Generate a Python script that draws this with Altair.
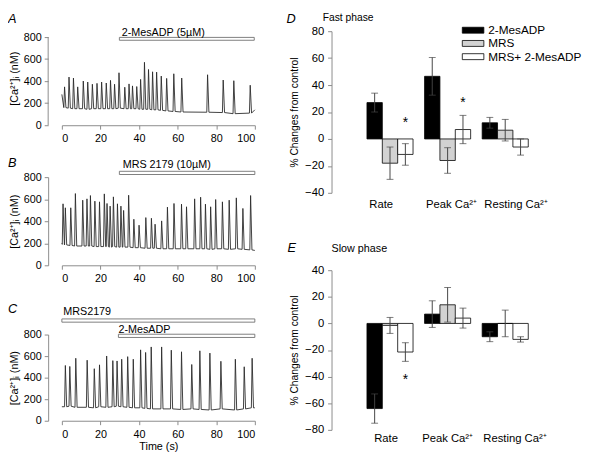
import altair as alt
import pandas as pd

FONT = "Liberation Sans"

# ---------------- Trace A : 2-MesADP ----------------
A_t = [1.4, 3.7, 6.0, 8.2, 11.1, 13.4, 15.8, 18.2, 20.6, 23.0, 25.2, 27.3, 29.6, 32.6, 34.8,
       36.6, 38.8, 40.8, 42.8, 44.9, 47.0, 49.1, 51.5, 54.3, 58.0, 62.1, 75.5, 83.6, 89.1, 97.6]
A_peak = [348, 437, 428, 348, 401, 392, 372, 380, 392, 383, 407, 372, 476, 345, 375,
          357, 351, 416, 571, 506, 485, 482, 446, 425, 467, 428, 458, 410, 404, 363]
A_base = [160, 155, 150, 150, 150, 145, 150, 150, 150, 150, 150, 150, 155, 150, 150,
          150, 150, 145, 145, 145, 140, 140, 135, 130, 125, 120, 118, 115, 105, 110]
A_ends = [(0, 280), (100, 140)]

# ---------------- Trace B : MRS 2179 ----------------
B_t = [0.6, 1.8, 4.6, 7.0, 10.8, 13.0, 14.8, 17.1, 19.5, 22.0, 23.4, 25.0, 26.7, 28.8, 30.6,
       32.0, 34.6, 37.3, 40.0, 43.5, 46.4, 48.3, 51.7, 54.7, 58.1, 62.0, 64.6, 68.8, 71.9, 74.4,
       77.1, 79.7, 83.2, 86.7, 90.4, 93.8, 97.8]
B_peak = [558, 522, 522, 651, 591, 603, 633, 582, 576, 648, 561, 537, 621, 558, 537,
          498, 636, 418, 364, 433, 427, 373, 403, 528, 561, 555, 531, 603, 618, 555,
          531, 597, 576, 591, 612, 516, 633]
B_base = [190, 185, 180, 175, 175, 175, 175, 170, 170, 170, 170, 165, 170, 165, 165,
          165, 165, 160, 160, 155, 155, 155, 150, 150, 150, 150, 150, 150, 150, 150,
          145, 150, 150, 145, 150, 145, 140]
B_ends = [(0, 200), (100, 135)]

# ---------------- Trace C : MRS2179 + 2-MesADP ----------------
C_t = [1.8, 4.1, 7.2, 13.1, 16.8, 19.5, 23.2, 26.4, 28.6, 31.0, 34.1, 37.0, 40.8, 43.4, 46.3,
       51.7, 56.7, 62.0, 67.3, 71.5, 76.7, 82.4, 89.9, 94.5, 98.6]
C_peak = [513, 504, 580, 562, 483, 519, 601, 558, 555, 571, 595, 571, 658, 634, 685,
          685, 655, 640, 522, 649, 628, 552, 571, 501, 580]
C_base = [130, 135, 125, 125, 120, 130, 125, 130, 135, 130, 125, 120, 120, 115, 110,
          110, 110, 105, 110, 105, 100, 110, 100, 110, 120]
C_ends = [(0, 130), (100, 120)]

# drug application bars (start s, end s, bottom nM, top nM) and their labels
A_bar_t1, A_bar_t2, A_bar_v1, A_bar_v2 = [29.8], [99.7], [771], [797]
A_lab_t, A_lab_v, A_lab = [31], [808], ["2-MesADP (5µM)"]
B_bar_t1, B_bar_t2, B_bar_v1, B_bar_v2 = [29.8], [100], [824], [853]
B_lab_t, B_lab_v, B_lab = [31.5], [885], ["MRS 2179 (10µM)"]
C_bar_t1, C_bar_t2, C_bar_v1, C_bar_v2 = [0, 29.3], [100, 100], [915, 773], [945, 803]
C_lab_t, C_lab_v, C_lab = [0.7, 29.3], [985, 817], ["MRS2179", "2-MesADP"]

# panel letters placed in each trace panel's own units (time s, nM)
A_let_t, A_let_v = -27.9, 929.8
B_let_t, B_let_v = -27.9, 888.9
C_let_t, C_let_v = -27.9, 1000

# ---------------- Bar panels D / E ----------------
cats = ["Rate", "Peak Ca²⁺", "Resting Ca²⁺"]
series = ["2-MesADP", "MRS", "MRS+ 2-MesADP"]
colors = ["#000000", "#d2d2d2", "#ffffff"]
D_mean = [27, -18, -11.5, 46.5, -16, 7, 12, 6.5, -6]
D_err = [7, 12, 8, 14, 9.5, 10.5, 4, 8, 6]
D_star_cat, D_star_ser, D_star_v = ["Rate", "Peak Ca²⁺"], ["MRS+ 2-MesADP", "MRS+ 2-MesADP"], [15, 29.5]
E_mean = [-64, -1.5, -21.5, 7, 14, 4, -10, 0, -12]
E_err = [11, 6, 7, 10, 13, 7.5, 3.7, 10, 2]
E_star_cat, E_star_ser, E_star_v = ["Rate"], ["MRS+ 2-MesADP"], [-40]


def trace_df(times, peaks, bases, ends):
    rows = [ends[0]]
    for t, p, b in zip(times, peaks, bases):
        rows += [(t - 0.4, b), (t, p), (t + 0.7, b)]
    rows.append(ends[1])
    return pd.DataFrame({"t": [r[0] for r in rows], "v": [r[1] for r in rows],
                         "i": list(range(len(rows)))})


GREY = "#8a8a8a"
AX = dict(domainColor=GREY, tickColor=GREY, tickSize=4, labelFontSize=11,
          titleFontSize=11, titleFontWeight="normal", labelColor="black",
          titleColor="black", grid=False)


def trace_panel(df, bar, lab, letter, letter_tv, height, ymax, xtitle, own_domain_line):
    def X(f):
        return alt.X(f, title=xtitle, scale=alt.Scale(domain=[0, 100], nice=False),
                     axis=alt.Axis(values=[0, 20, 40, 60, 80, 100], labelPadding=4,
                                   titlePadding=1, **AX))

    def Y(f):
        return alt.Y(f, title="[Ca²⁺]ᵢ (nM)", scale=alt.Scale(domain=[0, ymax], nice=False),
                     axis=alt.Axis(values=[0, 200, 400, 600, 800], offset=14, labelPadding=3,
                                   titlePadding=4, domain=not own_domain_line, **AX))

    line = alt.Chart(df).mark_line(color="#2a2a2a", strokeWidth=0.9).encode(
        x=X("t:Q"), y=Y("v:Q"), order="i:Q")
    bars = alt.Chart(pd.DataFrame({"t": bar[0], "t2": bar[1], "v": bar[2], "v2": bar[3]})).mark_rect(
        fill="white", stroke="#707070", strokeWidth=0.9).encode(
        x=X("t:Q"), x2="t2:Q", y=Y("v:Q"), y2="v2:Q")
    labels = alt.Chart(pd.DataFrame({"t": lab[0], "v": lab[1], "s": lab[2]})).mark_text(
        align="left", baseline="alphabetic", fontSize=11, color="black").encode(
        x=X("t:Q"), y=Y("v:Q"), text="s:N")
    let = alt.Chart(pd.DataFrame({"t": [letter_tv[0]], "v": [letter_tv[1]], "s": [letter]})).mark_text(
        align="left", baseline="alphabetic", fontSize=13, fontStyle="italic", color="black").encode(
        x=X("t:Q"), y=Y("v:Q"), text="s:N")
    layers = [line, bars, labels, let]
    if own_domain_line:
        # y-axis line drawn only over the 0-800 range of the axis
        layers.append(alt.Chart(pd.DataFrame({"v": [0], "v2": [800]})).mark_rule(
            color=GREY, strokeWidth=1).encode(x=alt.value(-14), y=Y("v:Q"), y2="v2:Q"))
    return alt.layer(*layers).properties(width=197, height=height)


def bar_df(mean, err):
    rows = []
    k = 0
    for c in cats:
        for s in series:
            rows.append({"cat": c, "series": s, "mean": mean[k],
                         "lo": mean[k] - err[k], "hi": mean[k] + err[k]})
            k += 1
    return pd.DataFrame(rows)


def bar_panel(mean, err, stars, ydom, yvals, height, legend, letter, letter_xy, phase,
              phase_xy, phase_size, lab_y, lab_dx):
    df = bar_df(mean, err)
    star_df = pd.DataFrame({"cat": stars[0], "series": stars[1], "v": stars[2]})

    def X():
        return alt.X("cat:N", sort=cats, title=None,
                     scale=alt.Scale(paddingInner=0.2, paddingOuter=0.615),
                     axis=alt.Axis(domain=False, ticks=False, labels=False))

    def XO():
        return alt.XOffset("series:N", sort=series, scale=alt.Scale(paddingInner=0, paddingOuter=0))

    def Y(f):
        return alt.Y(f, title="% Changes from control", scale=alt.Scale(domain=ydom, nice=False),
                     axis=alt.Axis(values=yvals, labelPadding=4, titlePadding=5,
                                   **dict(AX, labelFontSize=11.5, titleFontSize=10.5)))

    color = alt.Color("series:N", sort=series, scale=alt.Scale(domain=series, range=colors),
                      legend=legend)
    bars = alt.Chart(df).mark_bar(stroke="black", strokeWidth=0.8).encode(
        x=X(), xOffset=XO(), y=Y("mean:Q"), color=color)
    rule = alt.Chart(df).mark_rule(color="#444444", strokeWidth=1).encode(
        x=X(), xOffset=XO(), y=Y("lo:Q"), y2="hi:Q")
    cap_hi = alt.Chart(df).mark_tick(color="#444444", thickness=1, size=7).encode(
        x=X(), xOffset=XO(), y=Y("hi:Q"))
    cap_lo = alt.Chart(df).mark_tick(color="#444444", thickness=1, size=7).encode(
        x=X(), xOffset=XO(), y=Y("lo:Q"))
    star = alt.Chart(star_df).mark_text(text="*", fontSize=14, baseline="middle", dy=4,
                                        color="black", fill="black").encode(
        x=X(), xOffset=XO(), y=Y("v:Q"))
    # category labels under each group (set slightly off-centre as in the original)
    cat_labels = [
        alt.Chart(pd.DataFrame({"cat": [c]})).mark_text(
            baseline="top", fontSize=11.5, dx=d, color="black").encode(
            x=X(), y=alt.value(height + lab_y), text="cat:N")
        for c, d in zip(cats, lab_dx)
    ]
    let = alt.Chart(pd.DataFrame({"s": [letter]})).mark_text(
        align="left", baseline="alphabetic", fontSize=13, fontStyle="italic", color="black").encode(
        x=alt.value(letter_xy[0]), y=alt.value(letter_xy[1]), text="s:N")
    ph = alt.Chart(pd.DataFrame({"s": [phase]})).mark_text(
        align="left", baseline="alphabetic", fontSize=phase_size, color="black").encode(
        x=alt.value(phase_xy[0]), y=alt.value(phase_xy[1]), text="s:N")
    return alt.layer(bars, rule, cap_hi, cap_lo, star, *cat_labels, let, ph).properties(
        width=237, height=height)


legend_D = alt.Legend(orient="none", legendX=138.5, legendY=-7, title=None, padding=0,
                      symbolType="M-2,-0.55H2V0.55H-2Z", symbolSize=121,
                      symbolStrokeColor="black", symbolStrokeWidth=0.8, symbolOpacity=1,
                      labelFontSize=12, labelOffset=9.5, rowPadding=1.5, labelColor="black")

# panel A's value axis is 6 px shorter than its plot so that its 800 line sits below panel D's top
pA = trace_panel(trace_df(A_t, A_peak, A_base, A_ends),
                 (A_bar_t1, A_bar_t2, A_bar_v1, A_bar_v2), (A_lab_t, A_lab_v, A_lab), "A",
                 (A_let_t, A_let_v), 96, 853.33, None, True)
pB = trace_panel(trace_df(B_t, B_peak, B_base, B_ends),
                 (B_bar_t1, B_bar_t2, B_bar_v1, B_bar_v2), (B_lab_t, B_lab_v, B_lab), "B",
                 (B_let_t, B_let_v), 90, 800, None, False)
pC = trace_panel(trace_df(C_t, C_peak, C_base, C_ends),
                 (C_bar_t1, C_bar_t2, C_bar_v1, C_bar_v2), (C_lab_t, C_lab_v, C_lab), "C",
                 (C_let_t, C_let_v), 88, 800, "Time (s)", False)

pD = bar_panel(D_mean, D_err, (D_star_cat, D_star_ser, D_star_v), [-40, 80],
               [-40, -20, 0, 20, 40, 60, 80], 165, legend_D, "D", (-46, -8.6),
               "Fast phase", (-9, -10.6), 10.5, 6, (-9, 4, 11))
pE = bar_panel(E_mean, E_err, (E_star_cat, E_star_ser, E_star_v), [-80, 40],
               [-80, -60, -40, -20, 0, 20, 40], 163, None, "E", (-45, -19),
               "Slow phase", (0, -19), 11, 3, (-4, 0, 10))

left = alt.vconcat(alt.vconcat(pA, pB, spacing=53, bounds="flush"), pC, spacing=19.7, bounds="full")
right = alt.vconcat(pD, pE, spacing=79, bounds="flush").resolve_legend(color="independent")

chart = alt.hconcat(left, right, spacing=30.3, bounds="full").properties(
    padding=0
).configure(font=FONT).configure_view(stroke=None)

chart.save("out.html", embed_options={"renderer": "svg", "actions": False})
